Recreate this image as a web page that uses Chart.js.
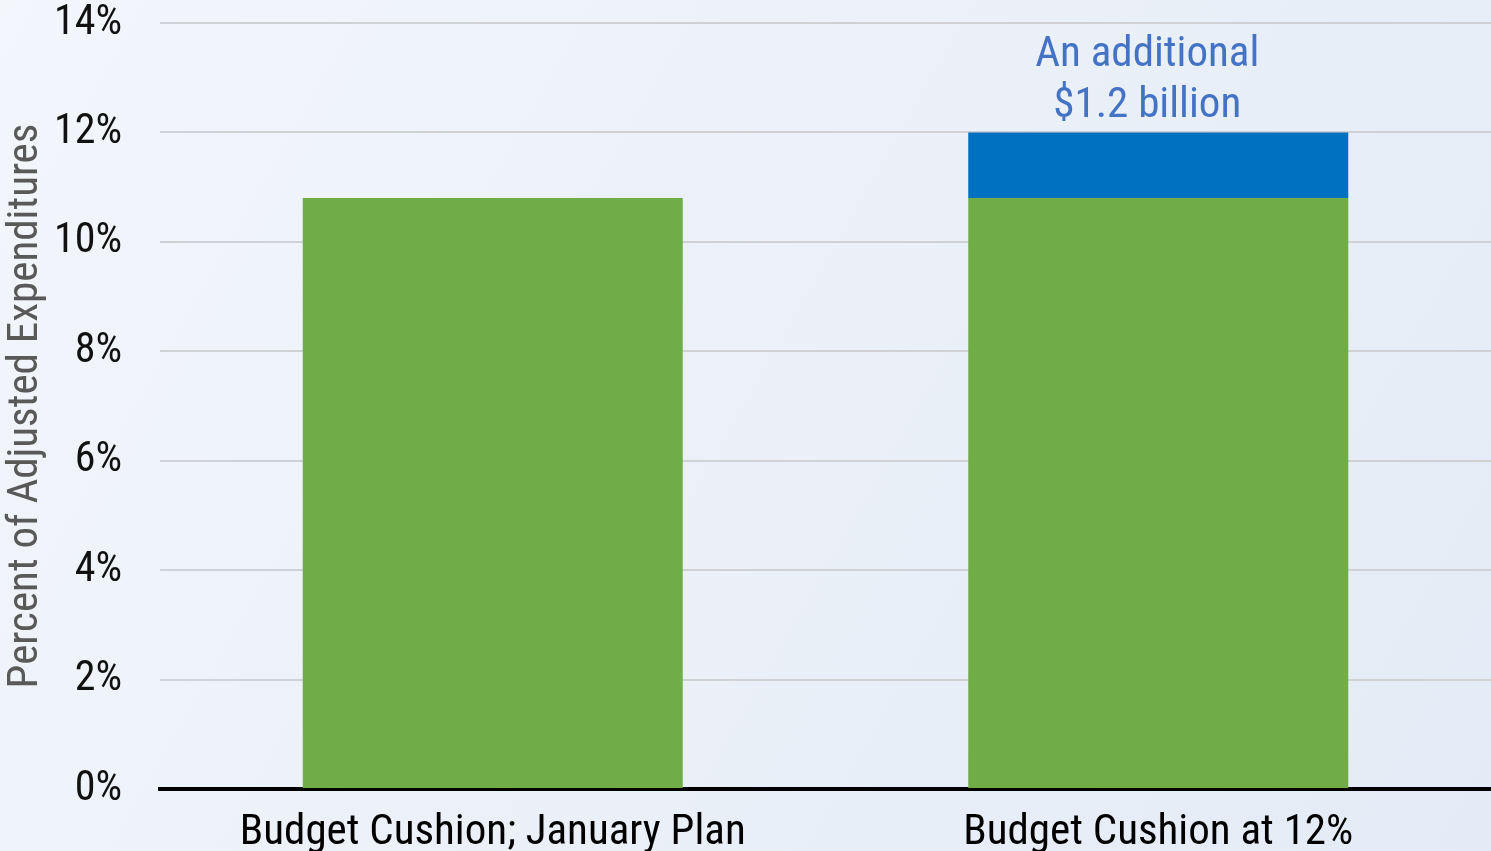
<!DOCTYPE html>
<html lang="en">
<head>
  <meta charset="UTF-8" />
  <title>Budget Cushion</title>
  <script src="https://cdn.jsdelivr.net/npm/chart.js"></script>
  <style>
    html, body { margin: 0; padding: 0; background: #eef3fa; }
    #wrap { width: 1491px; height: 851px; }
  </style>
</head>
<body>
  <div id="wrap"><canvas id="chart"></canvas></div>

  <script>
    const categories = ['Budget Cushion; January Plan', 'Budget Cushion at 12%'];
    const januaryPlan = [10.8, 10.8];
    const additional = [0, 1.2];
    const noteLines = ['An additional', '$1.2 billion'];
    const yTicks = [0, 2, 4, 6, 8, 10, 12, 14];

    const FONT = "'Liberation Sans Narrow', 'Arial Narrow', 'Roboto Condensed', sans-serif";

    const background = {
      id: 'background',
      beforeDraw(chart) {
        const c = chart.ctx;
        const g = c.createLinearGradient(0, 0, chart.width, chart.height);
        g.addColorStop(0, '#f3f6fb');
        g.addColorStop(1, '#e3ebf6');
        c.save();
        c.fillStyle = g;
        c.fillRect(0, 0, chart.width, chart.height);
        c.restore();
      }
    };

    const note = {
      id: 'note',
      afterDraw(chart) {
        const c = chart.ctx;
        const x = chart.scales.x.getPixelForValue(1) - 11;
        const top = chart.scales.y.getPixelForValue(januaryPlan[1] + additional[1]);
        c.save();
        c.font = '43px ' + FONT;
        c.fillStyle = '#4472c4';
        c.textAlign = 'center';
        c.textBaseline = 'middle';
        c.fillText(noteLines[0], x, top - 77);
        c.fillText(noteLines[1], x, top - 26);
        c.restore();
      }
    };

    const ctx = document.getElementById('chart').getContext('2d');
    new Chart(ctx, {
      type: 'bar',
      data: {
        labels: categories,
        datasets: [
          { label: 'January Plan', data: januaryPlan, backgroundColor: '#70ad47' },
          { label: 'Additional', data: additional, backgroundColor: '#0070c0' }
        ]
      },
      options: {
        responsive: true,
        maintainAspectRatio: false,
        animation: false,
        layout: { padding: { top: 23, right: 0, left: 0, bottom: 0 } },
        datasets: { bar: { barPercentage: 1, categoryPercentage: 0.571 } },
        plugins: { legend: { display: false }, tooltip: { enabled: false } },
        scales: {
          x: {
            stacked: true,
            grid: { display: false },
            border: { color: '#000', width: 4 },
            ticks: { color: '#000', padding: 10, font: { family: FONT, size: 43 } },
            afterFit(s) { s.height = 62; s.paddingLeft = 0; s.paddingRight = 0; }
          },
          y: {
            stacked: true,
            min: 0,
            max: 14,
            afterBuildTicks(s) { s.ticks = yTicks.map(v => ({ value: v })); },
            grid: { color: '#d0d1d4', lineWidth: 2, drawTicks: false },
            border: { display: false },
            ticks: {
              color: '#111',
              padding: 38,
              font: { family: FONT, size: 42 },
              callback: v => v + '%'
            },
            title: {
              display: true,
              text: 'Percent of Adjusted Expenditures',
              color: '#595959',
              padding: { top: 0, bottom: 2 },
              font: { family: FONT, size: 43 }
            },
            afterFit(s) { s.width = 160; s.paddingTop = 0; s.paddingBottom = 0; }
          }
        }
      },
      plugins: [background, note]
    });
  </script>
</body>
</html>
